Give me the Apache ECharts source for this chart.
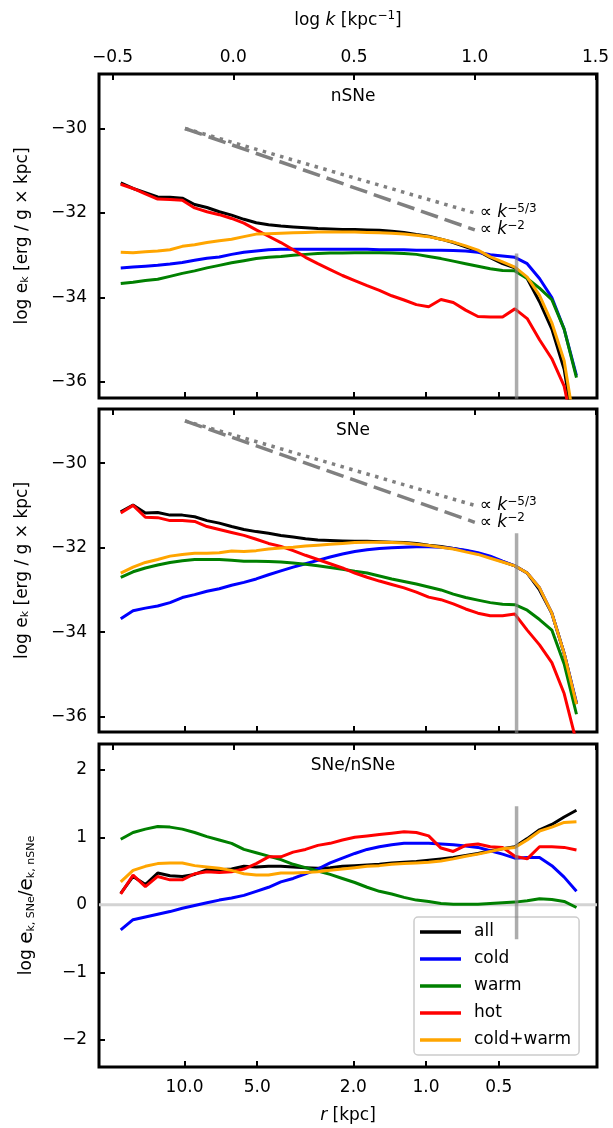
<!DOCTYPE html>
<html>
<head>
<meta charset="utf-8">
<script src="https://cdn.jsdelivr.net/npm/echarts@6/dist/echarts.min.js"></script>
<title>log e_k spectra</title>
<style>
  html, body { margin: 0; padding: 0; background: #fff; }
  #chart { width: 613px; height: 1128px; }
</style>
</head>
<body>
<div id="chart"></div>
<script type="text/javascript">
// x grid (log k)
var logK = [-0.466, -0.415, -0.364, -0.313, -0.262, -0.211, -0.160, -0.109, -0.058, -0.007,
            0.044, 0.095, 0.146, 0.197, 0.248, 0.299, 0.350, 0.401, 0.452, 0.503,
            0.554, 0.605, 0.656, 0.707, 0.758, 0.809, 0.860, 0.911, 0.962, 1.013,
            1.064, 1.115, 1.166, 1.217, 1.268, 1.319, 1.370, 1.421];

// panel 1 : nSNe
var nsAll = [-31.29, -31.42, -31.52, -31.62, -31.63, -31.65, -31.80, -31.87, -31.97, -32.05,
             -32.15, -32.23, -32.28, -32.31, -32.33, -32.35, -32.37, -32.38, -32.39, -32.39,
             -32.40, -32.41, -32.43, -32.46, -32.51, -32.55, -32.62, -32.70, -32.80, -32.90,
             -33.06, -33.20, -33.30, -33.55, -34.10, -34.75, -35.70, -37.50];
var nsCold = [-33.30, -33.28, -33.26, -33.24, -33.21, -33.17, -33.12, -33.07, -33.04, -32.98,
              -32.93, -32.90, -32.87, -32.86, -32.86, -32.86, -32.86, -32.86, -32.86, -32.86,
              -32.86, -32.87, -32.87, -32.87, -32.88, -32.88, -32.88, -32.89, -32.90, -32.93,
              -32.99, -33.02, -33.05, -33.20, -33.55, -34.00, -34.75, -35.85];
var nsWarm = [-33.67, -33.64, -33.60, -33.57, -33.50, -33.43, -33.37, -33.30, -33.24, -33.18,
              -33.13, -33.08, -33.05, -33.03, -33.00, -32.98, -32.96, -32.95, -32.95, -32.94,
              -32.94, -32.94, -32.95, -32.96, -32.98, -33.03, -33.08, -33.14, -33.20, -33.26,
              -33.32, -33.36, -33.37, -33.55, -33.78, -34.05, -34.75, -35.90];
var nsHot = [-31.32, -31.42, -31.55, -31.67, -31.68, -31.70, -31.88, -31.97, -32.04, -32.13,
             -32.24, -32.40, -32.55, -32.70, -32.87, -33.05, -33.20, -33.34, -33.48, -33.60,
             -33.72, -33.83, -33.96, -34.06, -34.17, -34.22, -34.05, -34.12, -34.30, -34.45,
             -34.46, -34.46, -34.27, -34.50, -35.00, -35.45, -36.10, -37.50];
var nsColdWarm = [-32.93, -32.94, -32.92, -32.90, -32.87, -32.79, -32.75, -32.70, -32.66, -32.62,
                  -32.56, -32.50, -32.49, -32.48, -32.47, -32.46, -32.45, -32.45, -32.45, -32.45,
                  -32.46, -32.47, -32.48, -32.50, -32.53, -32.56, -32.62, -32.69, -32.78, -32.88,
                  -33.04, -33.16, -33.28, -33.52, -33.95, -34.60, -35.50, -37.30];

// panel 2 : SNe
var sAll = [-31.15, -30.99, -31.18, -31.17, -31.23, -31.23, -31.27, -31.36, -31.42, -31.50,
            -31.57, -31.62, -31.66, -31.71, -31.75, -31.79, -31.82, -31.83, -31.84, -31.85,
            -31.85, -31.86, -31.87, -31.88, -31.90, -31.94, -31.97, -32.02, -32.07, -32.14,
            -32.23, -32.33, -32.43, -32.60, -33.00, -33.55, -34.50, -35.70];
var sCold = [-33.68, -33.49, -33.43, -33.38, -33.30, -33.18, -33.11, -33.03, -32.97, -32.89,
             -32.82, -32.74, -32.64, -32.55, -32.46, -32.38, -32.30, -32.22, -32.15, -32.09,
             -32.05, -32.02, -32.00, -31.99, -31.98, -31.98, -31.99, -32.02, -32.06, -32.12,
             -32.20, -32.32, -32.43, -32.60, -32.95, -33.55, -34.50, -35.67];
var sWarm = [-32.70, -32.57, -32.48, -32.41, -32.35, -32.31, -32.28, -32.28, -32.28, -32.30,
             -32.32, -32.32, -32.33, -32.34, -32.36, -32.39, -32.43, -32.47, -32.51, -32.56,
             -32.60, -32.67, -32.74, -32.80, -32.86, -32.93, -33.00, -33.10, -33.18, -33.24,
             -33.30, -33.34, -33.35, -33.48, -33.70, -33.95, -34.75, -35.94];
var sHot = [-31.18, -31.00, -31.28, -31.29, -31.36, -31.36, -31.38, -31.50, -31.57, -31.64,
            -31.71, -31.80, -31.90, -31.97, -32.07, -32.18, -32.28, -32.38, -32.48, -32.60,
            -32.70, -32.79, -32.87, -32.95, -33.05, -33.17, -33.23, -33.33, -33.45, -33.55,
            -33.61, -33.61, -33.57, -33.95, -34.30, -34.72, -35.45, -36.60];
var sColdWarm = [-32.60, -32.46, -32.35, -32.28, -32.20, -32.16, -32.13, -32.13, -32.12, -32.08,
                 -32.09, -32.07, -32.03, -32.01, -31.99, -31.96, -31.94, -31.92, -31.90, -31.88,
                 -31.87, -31.87, -31.88, -31.89, -31.92, -31.95, -31.99, -32.03, -32.10, -32.16,
                 -32.25, -32.34, -32.43, -32.60, -32.95, -33.55, -34.50, -35.70];

// panel 3 : SNe/nSNe
var rAll = [0.17, 0.42, 0.30, 0.47, 0.43, 0.42, 0.45, 0.52, 0.52, 0.53,
            0.57, 0.56, 0.57, 0.57, 0.56, 0.55, 0.54, 0.55, 0.57, 0.58,
            0.59, 0.60, 0.62, 0.63, 0.64, 0.66, 0.68, 0.70, 0.73, 0.76,
            0.80, 0.83, 0.86, 0.98, 1.11, 1.19, 1.30, 1.40];
var rCold = [-0.37, -0.22, -0.18, -0.14, -0.10, -0.05, -0.01, 0.03, 0.07, 0.10,
             0.14, 0.20, 0.26, 0.34, 0.39, 0.46, 0.53, 0.62, 0.69, 0.76,
             0.82, 0.86, 0.89, 0.91, 0.91, 0.91, 0.90, 0.89, 0.87, 0.85,
             0.80, 0.75, 0.69, 0.70, 0.70, 0.58, 0.41, 0.20];
var rWarm = [0.97, 1.07, 1.12, 1.16, 1.15, 1.12, 1.07, 1.01, 0.96, 0.91,
             0.82, 0.77, 0.72, 0.67, 0.60, 0.55, 0.50, 0.45, 0.39, 0.33,
             0.26, 0.20, 0.16, 0.11, 0.07, 0.05, 0.02, 0.01, 0.01, 0.01,
             0.02, 0.03, 0.04, 0.06, 0.09, 0.08, 0.05, -0.04];
var rHot = [0.16, 0.44, 0.27, 0.42, 0.37, 0.37, 0.46, 0.49, 0.48, 0.49,
            0.53, 0.61, 0.71, 0.71, 0.78, 0.82, 0.88, 0.91, 0.96, 1.00,
            1.02, 1.04, 1.06, 1.08, 1.07, 1.02, 0.84, 0.79, 0.88, 0.90,
            0.86, 0.85, 0.72, 0.68, 0.86, 0.86, 0.85, 0.81];
var rColdWarm = [0.34, 0.51, 0.57, 0.61, 0.62, 0.62, 0.58, 0.56, 0.54, 0.51,
                 0.46, 0.44, 0.44, 0.47, 0.47, 0.48, 0.49, 0.51, 0.53, 0.55,
                 0.57, 0.58, 0.60, 0.61, 0.62, 0.63, 0.65, 0.68, 0.72, 0.75,
                 0.79, 0.83, 0.85, 0.96, 1.09, 1.15, 1.22, 1.23];

// power-law guides
var guideK = [-0.2, 1.0];
var nsSlope2 = [-30, -32.4];
var nsSlope53 = [-30, -32.0];
var sSlope2 = [-29, -31.4];
var sSlope53 = [-29, -31.0];

// vertical marker
var cutK = 1.173;
var nsCut = [-32.96, -36.4];
var sCut = [-31.66, -36.4];
var rCut = [1.46, -0.51];

// ticks
var kTicks = [-0.5, 0.0, 0.5, 1.0, 1.5];
var rTicks = [10, 5, 2, 1, 0.5];
var eTicks = [-36, -34, -32, -30];
var ratioTicks = [-2, -1, 0, 1, 2];

var names = ['all', 'cold', 'warm', 'hot', 'cold+warm'];
var colors = ['#000000', '#0000ff', '#008000', '#ff0000', '#ffa500'];

var FONT = 'DejaVu Sans';
var xMin = -0.556, xMax = 1.506;
var rTickPos = rTicks.map(function (r) { return Math.log10(2 * Math.PI / r); });

function minus(v) {
    return v < 0 ? '\u2212' + Math.abs(v) : String(v);
}

var grids = [
    {left: 99, width: 498, top: 74, height: 324},
    {left: 99, width: 498, top: 409, height: 323},
    {left: 99, width: 498, top: 744, height: 323}
];
grids.forEach(function (g) {
    g.show = true;
    g.borderColor = '#000';
    g.borderWidth = 3;
    g.backgroundColor = 'transparent';
});

var tickStyle = {show: true, inside: true, length: 6, lineStyle: {color: '#000', width: 2}};
var noLine = {show: false, onZero: false};

var xAxes = [];
[0, 1, 2].forEach(function (i) {
    xAxes.push({
        type: 'value', gridIndex: i, position: 'bottom', min: xMin, max: xMax,
        axisLine: noLine,
        splitLine: {show: false},
        axisTick: Object.assign({customValues: rTickPos}, tickStyle),
        axisLabel: {
            show: i === 2, customValues: rTickPos, margin: 12,
            color: '#000', fontSize: 17, fontFamily: FONT,
            formatter: function (v) { return (2 * Math.PI / Math.pow(10, v)).toFixed(1); }
        },
        name: i === 2 ? '{i|r} [kpc]' : '',
        nameLocation: 'middle', nameGap: 40,
        nameTextStyle: {color: '#000', fontSize: 17, fontFamily: FONT,
            rich: {i: {fontStyle: 'italic', fontSize: 17, fontFamily: FONT, color: '#000'}}}
    });
});
[0, 1, 2].forEach(function (i) {
    xAxes.push({
        type: 'value', gridIndex: i, position: 'top', min: xMin, max: xMax,
        axisLine: noLine,
        splitLine: {show: false},
        axisTick: Object.assign({customValues: kTicks}, tickStyle),
        axisLabel: {
            show: i === 0, customValues: kTicks, margin: 8,
            color: '#000', fontSize: 17, fontFamily: FONT,
            formatter: function (v) { return v < 0 ? '\u2212' + Math.abs(v).toFixed(1) : v.toFixed(1); }
        },
        name: i === 0 ? 'log {i|k} [kpc{sup|\u22121}]' : '',
        nameLocation: 'middle', nameGap: 42,
        nameTextStyle: {color: '#000', fontSize: 17, fontFamily: FONT,
            rich: {
                i: {fontStyle: 'italic', fontSize: 17, fontFamily: FONT, color: '#000'},
                sup: {fontSize: 12, fontFamily: FONT, color: '#000', verticalAlign: 'top', lineHeight: 22}
            }}
    });
});

var eName = 'log e{s|k} [erg / g \u00d7 kpc]';
var subRich = {
    s: {fontSize: 11, fontFamily: FONT, color: '#000', verticalAlign: 'bottom', lineHeight: 14},
    e: {fontSize: 20, fontFamily: FONT, color: '#000'}
};
var yAxes = [
    {min: -36.38, max: -28.71, ticks: eTicks, name: eName},
    {min: -36.36, max: -28.72, ticks: eTicks, name: eName},
    {min: -2.4, max: 2.38, ticks: ratioTicks, name: 'log {e|e}{s|k, SNe}/{e|e}{s|k, nSNe}'}
].map(function (a, i) {
    return {
        type: 'value', gridIndex: i, min: a.min, max: a.max,
        axisLine: noLine,
        splitLine: {show: false},
        axisTick: Object.assign({customValues: a.ticks}, tickStyle),
        axisLabel: {customValues: a.ticks, margin: 12, color: '#000', fontSize: 17,
            fontFamily: FONT, formatter: minus},
        name: a.name, nameLocation: 'middle', nameGap: i === 2 ? 62 : 68, nameRotate: 90,
        nameTextStyle: {color: '#000', fontSize: 17, fontFamily: FONT, rich: subRich}
    };
});

function panel(gi, vals) {
    return vals.map(function (v, j) {
        return {
            name: names[j], type: 'line', xAxisIndex: gi, yAxisIndex: gi,
            data: logK.map(function (k, i) { return [k, v[i]]; }),
            symbol: 'none', z: 3,
            lineStyle: {color: colors[j], width: 3},
            itemStyle: {color: colors[j]}
        };
    });
}

function guide(gi, vals, dash, txt) {
    return {
        type: 'line', xAxisIndex: gi, yAxisIndex: gi, symbol: 'none', z: 2,
        data: guideK.map(function (k, i) { return [k, vals[i]]; }),
        lineStyle: {color: '#808080', width: 3.5, type: dash, cap: 'butt'},
        endLabel: {
            show: true, distance: 5, formatter: txt, color: '#000', fontSize: 17, fontFamily: FONT,
            rich: {
                i: {fontStyle: 'italic', fontSize: 17, fontFamily: FONT, color: '#000'},
                sup: {fontSize: 12, fontFamily: FONT, color: '#000', verticalAlign: 'top', lineHeight: 20}
            }
        }
    };
}

function cut(gi, vals) {
    return {
        type: 'line', xAxisIndex: gi, yAxisIndex: gi, symbol: 'none', z: 4,
        data: vals.map(function (v) { return [cutK, v]; }),
        lineStyle: {color: 'rgba(128,128,128,0.65)', width: 3.5}
    };
}

var series = [];
series.push({
    type: 'line', xAxisIndex: 2, yAxisIndex: 2, symbol: 'none', z: 1,
    data: [[xMin, 0], [xMax, 0]],
    lineStyle: {color: '#d3d3d3', width: 3}
});
series.push(guide(0, nsSlope53, [3.5, 5.5], '{a|\u221d }{i|k}{sup|\u22125/3}'));
series.push(guide(0, nsSlope2, [18, 7], '{a|\u221d }{i|k}{sup|\u22122}'));
series.push(guide(1, sSlope53, [3.5, 5.5], '{a|\u221d }{i|k}{sup|\u22125/3}'));
series.push(guide(1, sSlope2, [18, 7], '{a|\u221d }{i|k}{sup|\u22122}'));
series = series.concat(panel(0, [nsAll, nsCold, nsWarm, nsHot, nsColdWarm]));
series = series.concat(panel(1, [sAll, sCold, sWarm, sHot, sColdWarm]));
series = series.concat(panel(2, [rAll, rCold, rWarm, rHot, rColdWarm]));
series.push(cut(0, nsCut));
series.push(cut(1, sCut));
series.push(cut(2, rCut));

var titleStyle = {color: '#000', fontSize: 17, fontWeight: 'normal', fontFamily: FONT};

var myChart = echarts.init(document.getElementById('chart'), null, {renderer: 'canvas'});
var option = {
    animation: false,
    backgroundColor: '#fff',
    title: [
        {text: 'nSNe', left: 348, top: 83, textAlign: 'center', textStyle: titleStyle},
        {text: 'SNe', left: 348, top: 417, textAlign: 'center', textStyle: titleStyle},
        {text: 'SNe/nSNe', left: 348, top: 752, textAlign: 'center', textStyle: titleStyle}
    ],
    legend: {
        data: names, orient: 'vertical', left: 414, top: 917,
        icon: 'rect', itemWidth: 41, itemHeight: 3.5, itemGap: 9,
        padding: [6, 8, 6, 6],
        backgroundColor: 'rgba(255,255,255,0.8)',
        borderColor: '#cccccc', borderWidth: 1.5, borderRadius: 4,
        textStyle: {color: '#000', fontSize: 17, fontFamily: FONT, padding: [0, 0, 0, 8], lineHeight: 18}
    },
    grid: grids,
    xAxis: xAxes,
    yAxis: yAxes,
    series: series
};
myChart.setOption(option);
</script>
</body>
</html>
